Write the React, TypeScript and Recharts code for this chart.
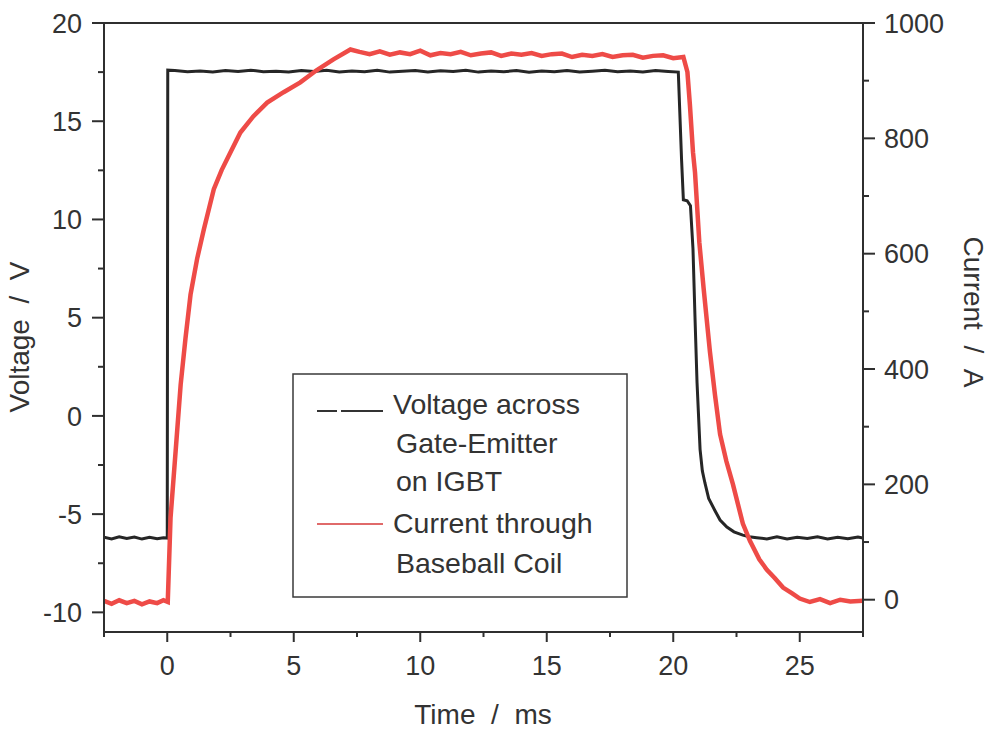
import React from 'react'
import { LineChart, Line, XAxis, YAxis, Legend } from 'recharts'

// gate-emitter voltage (V) vs time (ms)
const voltageTime = [
  -2.5, -2.2, -1.9, -1.6, -1.3, -1.0, -0.7, -0.4, -0.15, 0.0,
  0.02, 0.3, 0.8, 1.3, 1.8, 2.3, 2.8, 3.3, 3.8, 4.3, 4.8, 5.3, 5.8, 6.3, 6.8, 7.3, 7.8, 8.3, 8.8, 9.3,
  9.8, 10.3, 10.8, 11.3, 11.8, 12.3, 12.8, 13.3, 13.8, 14.3, 14.8, 15.3, 15.8, 16.3, 16.8, 17.3, 17.8,
  18.3, 18.8, 19.3, 19.8, 20.2,
  20.33, 20.4, 20.55, 20.68, 20.78, 20.86, 20.94, 21.06, 21.15, 21.25, 21.4, 21.64, 21.85, 22.12, 22.4,
  22.75, 23.0,
  23.3, 23.7, 24.1, 24.5, 24.9, 25.3, 25.7, 26.1, 26.5, 26.9, 27.3, 27.5,
]
const voltageValue = [
  -6.18, -6.26, -6.15, -6.24, -6.17, -6.27, -6.18, -6.25, -6.2, -6.22,
  17.6, 17.58, 17.52, 17.56, 17.5, 17.58, 17.53, 17.6, 17.52, 17.55, 17.5, 17.58, 17.53, 17.59, 17.51,
  17.56, 17.52, 17.6, 17.5, 17.55, 17.58, 17.51, 17.57, 17.53, 17.59, 17.5, 17.56, 17.52, 17.58, 17.49,
  17.56, 17.52, 17.58, 17.5, 17.55, 17.59, 17.52, 17.56, 17.5, 17.58, 17.53, 17.5,
  13.0, 11.0, 10.95, 10.7, 8.5, 5.0, 1.7, -1.7, -2.8, -3.4, -4.2, -4.8, -5.3, -5.66, -5.9,
  -6.07, -6.15,
  -6.2, -6.26, -6.15, -6.27, -6.18, -6.24, -6.15, -6.27, -6.18, -6.25, -6.16, -6.22,
]

// coil current (A) vs time (ms)
const currentTime = [
  -2.5, -2.2, -1.9, -1.6, -1.3, -1.0, -0.7, -0.4, -0.15, 0.02,
  0.13, 0.33, 0.53, 0.72, 0.92, 1.18, 1.45, 1.84, 2.15, 2.5, 2.89, 3.4, 3.95, 4.6, 5.26, 5.9, 6.57, 7.24,
  7.6, 8.0, 8.4, 8.8, 9.2, 9.6, 10.0, 10.4, 10.8, 11.2, 11.6, 12.0, 12.4, 12.8, 13.2, 13.6, 14.0,
  14.4, 14.8, 15.2, 15.6, 16.0, 16.4, 16.8, 17.2, 17.6, 18.0, 18.4, 18.8, 19.2, 19.6, 20.0, 20.4,
  20.56, 20.66, 20.78, 20.86, 21.03, 21.2, 21.45, 21.65, 21.85, 22.1, 22.36, 22.75, 23.03, 23.4, 23.7,
  24.0, 24.34, 24.7,
  25.0, 25.4, 25.8, 26.2, 26.6, 27.0, 27.5,
]
const currentValue = [
  -2, -7, -1, -6, -2, -8, -3, -6, -1, -4,
  142, 257, 373, 453, 529, 591, 643, 712, 745, 776, 810, 838, 862, 880, 897, 918, 937, 954,
  950, 946, 951, 945, 949, 946, 952, 944, 948, 946, 950, 944, 947, 949, 943, 947, 945,
  948, 943, 946, 947, 941, 945, 943, 946, 941, 944, 945, 940, 943, 944, 939, 941,
  915, 857, 776, 741, 620, 540, 430, 355, 287, 240, 200, 132, 102, 70, 52,
  38, 21, 11,
  2, -4, 1, -6, 0, -3, -2,
]

const timeTicks = [-2.5, 0, 2.5, 5, 7.5, 10, 12.5, 15, 17.5, 20, 22.5, 25, 27.5]
const timeLabels = [0, 5, 10, 15, 20, 25]
const voltageTicks = [-10, -7.5, -5, -2.5, 0, 2.5, 5, 7.5, 10, 12.5, 15, 17.5, 20]
const voltageLabels = [-10, -5, 0, 5, 10, 15, 20]
const currentTicks = [0, 100, 200, 300, 400, 500, 600, 700, 800, 900, 1000]
const currentLabels = [0, 200, 400, 600, 800, 1000]

const voltageData = voltageTime.map((t, i) => ({ t, v: voltageValue[i] }))
const currentData = currentTime.map((t, i) => ({ t, a: currentValue[i] }))

const font = '"Liberation Sans", Arial, sans-serif'
const ink = '#333'
const axisStroke = { stroke: '#2f2f2f', strokeWidth: 2 }

const BottomTick = (props: any) => {
  const { x, y, payload } = props
  const major = timeLabels.includes(payload.value)
  return (
    <g>
      <line x1={x} y1={y} x2={x} y2={y + (major ? 10 : 5)} {...axisStroke} />
      {major && (
        <text x={x} y={y + 43} textAnchor="middle" fill={ink} fontSize={27} fontFamily={font}>
          {payload.value}
        </text>
      )}
    </g>
  )
}

const TopTick = (props: any) => {
  const { x, y, payload } = props
  const major = timeLabels.includes(payload.value)
  return <line x1={x} y1={y} x2={x} y2={y + (major ? 12 : 6)} {...axisStroke} />
}

const LeftTick = (props: any) => {
  const { x, y, payload } = props
  const major = voltageLabels.includes(payload.value)
  return (
    <g>
      <line x1={x} y1={y} x2={x - (major ? 12 : 6)} y2={y} {...axisStroke} />
      {major && (
        <text x={x - 22} y={y} dy="0.36em" textAnchor="end" fill={ink} fontSize={27} fontFamily={font}>
          {payload.value}
        </text>
      )}
    </g>
  )
}

const RightTick = (props: any) => {
  const { x, y, payload } = props
  const major = currentLabels.includes(payload.value)
  return (
    <g>
      <line x1={x} y1={y} x2={x + (major ? 12 : 6)} y2={y} {...axisStroke} />
      {major && (
        <text x={x + 21} y={y} dy="0.36em" textAnchor="start" fill={ink} fontSize={27} fontFamily={font}>
          {payload.value}
        </text>
      )}
    </g>
  )
}

const LegendBox = () => (
  <svg width={336} height={225} style={{ display: 'block' }}>
    <rect x={1} y={1} width={334} height={223} fill="#fff" stroke="#3a3a3a" strokeWidth={1.5} />
    <line x1={25} y1={38} x2={91} y2={38} stroke="#333" strokeWidth={2} strokeDasharray="20 4 100" />
    <line x1={25} y1={151} x2={91} y2={151} stroke="#e06a6a" strokeWidth={2} />
    <g fill={ink} fontSize={28.5} fontFamily={font}>
      <text x={101} y={41}>Voltage across</text>
      <text x={104} y={80}>Gate-Emitter</text>
      <text x={104} y={118}>on IGBT</text>
      <text x={101} y={160}>Current through</text>
      <text x={104} y={200}>Baseball Coil</text>
    </g>
  </svg>
)

const titleStyle: React.CSSProperties = {
  position: 'absolute',
  fontFamily: font,
  fontSize: 28,
  lineHeight: '28px',
  color: ink,
  whiteSpace: 'pre',
}

export default function App() {
  return (
    <div style={{ position: 'fixed', left: 0, top: 0, width: 990, height: 730, overflow: 'hidden', background: '#fff' }}>
      <LineChart width={990} height={730} margin={{ top: 18, right: 0, bottom: 0, left: 0 }}>
        <XAxis
          xAxisId="bottom"
          dataKey="t"
          type="number"
          domain={[-2.5, 27.5]}
          ticks={timeTicks}
          interval={0}
          height={98}
          tickSize={0}
          tickMargin={0}
          tickLine={false}
          tick={<BottomTick />}
          axisLine={axisStroke}
          allowDataOverflow
        />
        <XAxis
          xAxisId="top"
          orientation="top"
          type="number"
          domain={[-2.5, 27.5]}
          ticks={timeTicks}
          interval={0}
          height={5}
          tickSize={0}
          tickMargin={0}
          tickLine={false}
          tick={<TopTick />}
          axisLine={axisStroke}
          allowDataOverflow
        />
        <YAxis
          yAxisId="left"
          type="number"
          domain={[-11, 20]}
          ticks={voltageTicks}
          interval={0}
          width={104}
          tickSize={0}
          tickMargin={0}
          tickLine={false}
          tick={<LeftTick />}
          axisLine={axisStroke}
          allowDataOverflow
        />
        <YAxis
          yAxisId="right"
          orientation="right"
          type="number"
          domain={[-56, 1000]}
          ticks={currentTicks}
          interval={0}
          width={127}
          tickSize={0}
          tickMargin={0}
          tickLine={false}
          tick={<RightTick />}
          axisLine={axisStroke}
          allowDataOverflow
        />
        <Legend
          layout="horizontal"
          verticalAlign="middle"
          align="center"
          content={<LegendBox />}
          wrapperStyle={{ position: 'absolute', left: 292, top: 373, width: 336, height: 225 }}
        />
        <Line
          data={voltageData}
          xAxisId="bottom"
          yAxisId="left"
          dataKey="v"
          type="linear"
          stroke="#262626"
          strokeWidth={3}
          dot={false}
          isAnimationActive={false}
        />
        <Line
          data={currentData}
          xAxisId="bottom"
          yAxisId="right"
          dataKey="a"
          type="linear"
          stroke="#ee4b47"
          strokeWidth={4.5}
          dot={false}
          isAnimationActive={false}
        />
      </LineChart>
      <div style={{ ...titleStyle, left: 20, top: 337, transform: 'translate(-50%, -50%) rotate(-90deg)' }}>
        {'Voltage\u00A0\u00A0/\u00A0\u00A0V'}
      </div>
      <div style={{ ...titleStyle, left: 973, top: 312, transform: 'translate(-50%, -50%) rotate(90deg)' }}>
        {'Current\u00A0\u00A0/\u00A0\u00A0A'}
      </div>
      <div style={{ ...titleStyle, left: 483, top: 715, transform: 'translate(-50%, -50%)' }}>
        {'Time\u00A0\u00A0/\u00A0\u00A0ms'}
      </div>
    </div>
  )
}
